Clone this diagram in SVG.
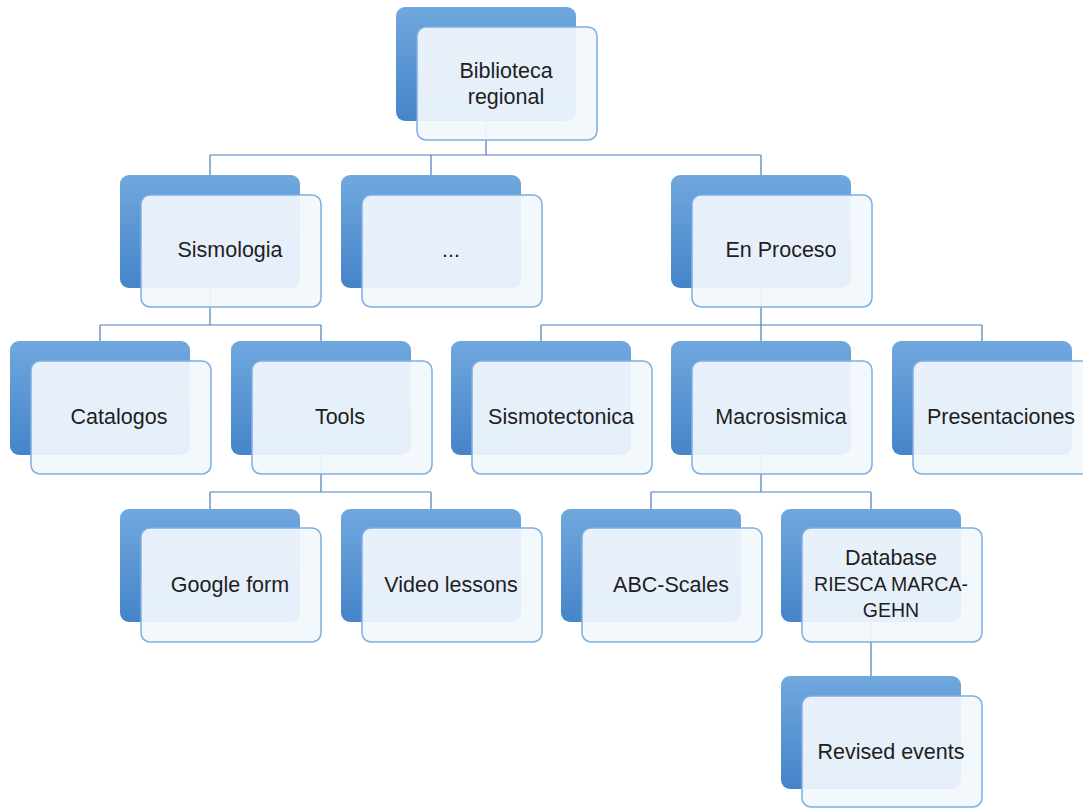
<svg xmlns="http://www.w3.org/2000/svg" width="1083" height="808" viewBox="0 0 1083 808">
<defs>
<linearGradient id="bg" x1="0" y1="0" x2="0" y2="1">
<stop offset="0" stop-color="#70a8de"/>
<stop offset="1" stop-color="#4584c9"/>
</linearGradient>
<style>
.back{fill:url(#bg);}
.front{fill:#f2f7fd;fill-opacity:0.93;stroke:#7eaedf;stroke-width:1.5;}
.lbl{font-family:"Liberation Sans",Arial,sans-serif;font-size:21.5px;fill:#1e1e1e;text-anchor:middle;dominant-baseline:central;}
.sm{font-size:19.5px;}
.conn{fill:none;stroke:#4a7ebb;stroke-width:1.2;}
</style>
</defs>
<rect width="1083" height="808" fill="#ffffff"/>
<g id="connectors">
<path class="conn" d="M486,121 V155 M210,155 H761 M210,155 V175 M431,155 V175 M761,155 V175"/>
<path class="conn" d="M210,288 V325 M100,325 H321 M100,325 V341 M321,325 V341"/>
<path class="conn" d="M761,288 V325 M541,325 H982 M541,325 V341 M761,325 V341 M982,325 V341"/>
<path class="conn" d="M321,455 V492 M210,492 H431 M210,492 V509 M431,492 V509"/>
<path class="conn" d="M761,455 V492 M651,492 H871 M651,492 V509 M871,492 V509"/>
<path class="conn" d="M871,622 V676"/>
</g>
<g id="n-biblioteca">
<rect class="back" x="396" y="7" width="180" height="114" rx="9"/>
<rect class="front" x="417" y="27" width="180" height="113" rx="9"/>
<text class="lbl" x="506" y="71">Biblioteca</text>
<text class="lbl" x="506" y="97">regional</text>
</g>
<g id="n-sismologia">
<rect class="back" x="120" y="175" width="180" height="113" rx="9"/>
<rect class="front" x="141" y="195" width="180" height="112" rx="9"/>
<text class="lbl" x="230" y="250">Sismologia</text>
</g>
<g id="n-dots">
<rect class="back" x="341" y="175" width="180" height="113" rx="9"/>
<rect class="front" x="362" y="195" width="180" height="112" rx="9"/>
<text class="lbl" x="451" y="250">...</text>
</g>
<g id="n-enproceso">
<rect class="back" x="671" y="175" width="180" height="113" rx="9"/>
<rect class="front" x="692" y="195" width="180" height="112" rx="9"/>
<text class="lbl" x="781" y="250">En Proceso</text>
</g>
<g id="n-catalogos">
<rect class="back" x="10" y="341" width="180" height="114" rx="9"/>
<rect class="front" x="31" y="361" width="180" height="113" rx="9"/>
<text class="lbl" x="119" y="417">Catalogos</text>
</g>
<g id="n-tools">
<rect class="back" x="231" y="341" width="180" height="114" rx="9"/>
<rect class="front" x="252" y="361" width="180" height="113" rx="9"/>
<text class="lbl" x="340" y="417">Tools</text>
</g>
<g id="n-sismotectonica">
<rect class="back" x="451" y="341" width="180" height="114" rx="9"/>
<rect class="front" x="472" y="361" width="180" height="113" rx="9"/>
<text class="lbl" x="561" y="417">Sismotectonica</text>
</g>
<g id="n-macrosismica">
<rect class="back" x="671" y="341" width="180" height="114" rx="9"/>
<rect class="front" x="692" y="361" width="180" height="113" rx="9"/>
<text class="lbl" x="781" y="417">Macrosismica</text>
</g>
<g id="n-presentaciones">
<rect class="back" x="892" y="341" width="180" height="114" rx="9"/>
<rect class="front" x="913" y="361" width="180" height="113" rx="9"/>
<text class="lbl" x="1001" y="417">Presentaciones</text>
</g>
<g id="n-googleform">
<rect class="back" x="120" y="509" width="180" height="113" rx="9"/>
<rect class="front" x="141" y="528" width="180" height="114" rx="9"/>
<text class="lbl" x="230" y="585">Google form</text>
</g>
<g id="n-videolessons">
<rect class="back" x="341" y="509" width="180" height="113" rx="9"/>
<rect class="front" x="362" y="528" width="180" height="114" rx="9"/>
<text class="lbl" x="451" y="585">Video lessons</text>
</g>
<g id="n-abcscales">
<rect class="back" x="561" y="509" width="180" height="113" rx="9"/>
<rect class="front" x="582" y="528" width="180" height="114" rx="9"/>
<text class="lbl" x="671" y="585">ABC-Scales</text>
</g>
<g id="n-database">
<rect class="back" x="781" y="509" width="180" height="113" rx="9"/>
<rect class="front" x="802" y="528" width="180" height="114" rx="9"/>
<text class="lbl" x="891" y="558">Database</text>
<text class="lbl sm" x="891" y="584">RIESCA MARCA-</text>
<text class="lbl sm" x="891" y="610">GEHN</text>
</g>
<g id="n-revised">
<rect class="back" x="781" y="676" width="180" height="113" rx="9"/>
<rect class="front" x="802" y="696" width="180" height="111" rx="9"/>
<text class="lbl" x="891" y="752">Revised events</text>
</g>
</svg>
